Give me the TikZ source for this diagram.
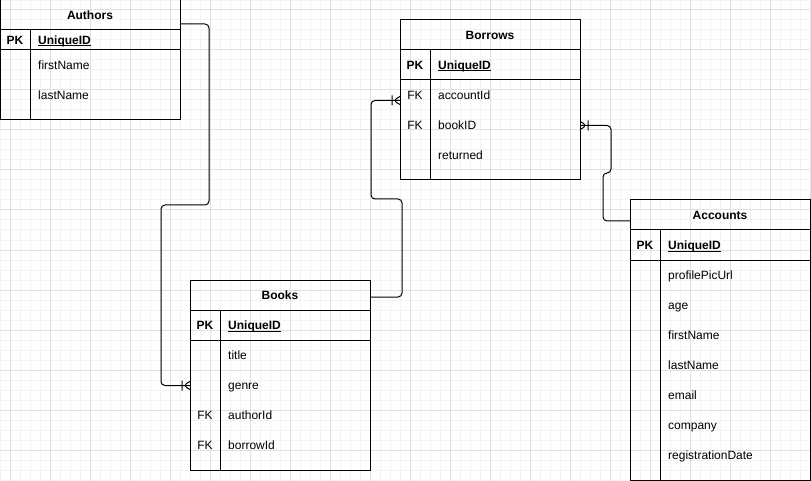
\documentclass[tikz,border=0pt]{standalone}
\usepackage{fontspec}
\setmainfont{Liberation Sans}
\usetikzlibrary{positioning,decorations.markings}
\definecolor{gridminor}{HTML}{F3F3F3}
\definecolor{gridmajor}{HTML}{E0E0E0}
\tikzset{
  tabhead/.style={draw, line width=1pt, minimum width=180pt, minimum height=30pt,
    inner sep=0pt, outer sep=0pt, text height=8.6pt, text depth=0pt,
    font=\fontsize{12}{14}\selectfont\bfseries},
  tabbody/.style={draw, line width=1pt, minimum width=180pt, inner sep=0pt, outer sep=0pt},
  field/.style={anchor=west, inner sep=0pt, text height=8.6pt, text depth=0pt,
    font=\fontsize{12}{14}\selectfont},
  pkey/.style={field, font=\fontsize{12}{14}\selectfont\bfseries},
  keytag/.style={field, anchor=center},
  pktag/.style={pkey, anchor=center},
  rel/.style={line width=1pt, rounded corners=4pt},
  crow/.style={postaction={decorate}, decoration={markings,
    mark=at position 1 with {\draw[line width=1pt] (-8,-5) -- (-8,5) (0,-4) -- (-7,0) -- (0,4);}}}
}
\begin{document}
\begin{tikzpicture}[x=1pt,y=-1pt]
  % Canvas
  \useasboundingbox (0,0) rectangle (811,481);
  \fill[white] (0,0) rectangle (811,481);
  %
  % Grid
  \draw[gridminor, line width=1pt, step=10pt] (0,0) grid (811,481);
  \foreach \g in {10,50,...,810} \draw[gridmajor, line width=1pt] (\g,0) -- (\g,481);
  \foreach \g in {10,50,...,450} \draw[gridmajor, line width=1pt] (0,\g) -- (811,\g);
  %
  % Authors
  \node[tabhead] (authors) at (90,15) {Authors};
  \node[tabbody, minimum height=90pt, below=0pt of authors] (authors-body) {};
  \draw[line width=1pt] (0,50) -- (180,50) (30,30) -- (30,120);
  \node[pktag] (authors-pk) at (15,40) {PK};
  \node[pkey] (authors-id) at (38,40) {\underline{\smash{UniqueID}}};
  \node[field] (authors-first) at (38,65.5) {firstName};
  \node[field] (authors-last) at (38,95.5) {lastName};
  %
  % Borrows
  \node[tabhead] (borrows) at (490,35) {Borrows};
  \node[tabbody, minimum height=130pt, below=0pt of borrows] (borrows-body) {};
  \draw[line width=1pt] (400,80) -- (580,80) (430,50) -- (430,180);
  \node[pktag] (borrows-pk) at (415,65) {PK};
  \node[pkey] (borrows-id) at (438,65) {\underline{\smash{UniqueID}}};
  \node[keytag] (borrows-fk1) at (415,95.5) {FK};
  \node[field] (borrows-acc) at (438,95.5) {accountId};
  \node[keytag] (borrows-fk2) at (415,125.5) {FK};
  \node[field] (borrows-book) at (438,125.5) {bookID};
  \node[field] (borrows-ret) at (438,155.5) {returned};
  %
  % Books
  \node[tabhead] (books) at (280,295) {Books};
  \node[tabbody, minimum height=160pt, below=0pt of books] (books-body) {};
  \draw[line width=1pt] (190,340) -- (370,340) (220,310) -- (220,470);
  \node[pktag] (books-pk) at (205,325) {PK};
  \node[pkey] (books-id) at (228,325) {\underline{\smash{UniqueID}}};
  \node[field] (books-title) at (228,355.5) {title};
  \node[field] (books-genre) at (228,385.5) {genre};
  \node[keytag] (books-fk1) at (205,415.5) {FK};
  \node[field] (books-author) at (228,415.5) {authorId};
  \node[keytag] (books-fk2) at (205,445.5) {FK};
  \node[field] (books-borrow) at (228,445.5) {borrowId};
  %
  % Accounts
  \node[tabhead] (accounts) at (720,215) {Accounts};
  \node[tabbody, minimum height=250pt, below=0pt of accounts] (accounts-body) {};
  \draw[line width=1pt] (630,260) -- (810,260) (660,230) -- (660,480);
  \node[pktag] (accounts-pk) at (645,245) {PK};
  \node[pkey] (accounts-id) at (668,245) {\underline{\smash{UniqueID}}};
  \node[field] (accounts-pic) at (668,275.5) {profilePicUrl};
  \node[field] (accounts-age) at (668,305.5) {age};
  \node[field] (accounts-first) at (668,335.5) {firstName};
  \node[field] (accounts-last) at (668,365.5) {lastName};
  \node[field] (accounts-mail) at (668,395.5) {email};
  \node[field] (accounts-comp) at (668,425.5) {company};
  \node[field] (accounts-date) at (668,455.5) {registrationDate};
  %
  % Relations
  \draw[rel, crow] ([yshift=-9pt]authors.east) -- ++(29,0) -- ++(0,181) -- ++(-48,0)
    |- (books.west |- books-genre);
  \draw[rel, crow] ([yshift=-2pt]books.east) -- ++(32,0) -- ++(0,-98) -- ++(-31,0)
    |- ([yshift=-5pt]borrows.west |- borrows-acc);
  \draw[rel, crow] ([yshift=-6pt]accounts.west) -- ++(-27,0) -- ++(0,-48) -- ++(8,0)
    |- (borrows.east |- borrows-book);
  %
\end{tikzpicture}
\end{document}
